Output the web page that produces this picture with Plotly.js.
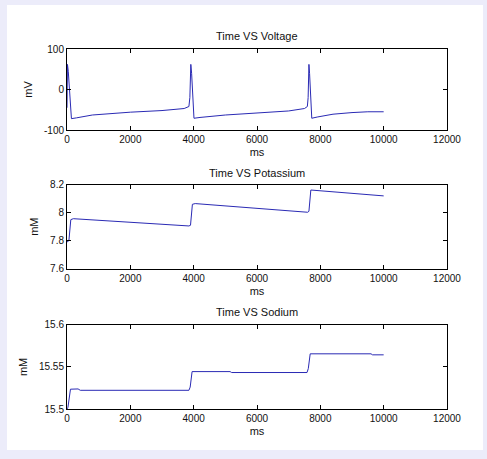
<!DOCTYPE html>
<html>
<head>
<meta charset="utf-8">
<script src="https://cdn.plot.ly/plotly-3.0.1.min.js"></script>
<style>
  html, body { margin: 0; padding: 0; background: #ececfa; width: 487px; height: 459px; overflow: hidden; }
  #chart { position: absolute; left: 7px; top: 5px; width: 476px; height: 445px; }
</style>
</head>
<body>
<div id="chart"></div>
<script>
// ---- Data ----
const titles = ["Time VS Voltage", "Time VS Potassium", "Time VS Sodium"];
const xLabel = "ms";
const yLabels = ["mV", "mM", "mM"];

// Voltage (mV) vs time (ms)
const tVoltage = [0, 15, 40, 80, 140, 300, 800, 2000, 3000, 3700, 3850, 3880, 3910, 3935, 3960, 4010, 4200, 5000, 6000, 7000, 7500, 7590, 7615, 7640, 7660, 7680, 7730, 7900, 8400, 9000, 9500, 10000];
const voltage  = [-45, 62, 45, 0, -72, -70, -63, -56, -52, -47, -42, -20, 62, 40, 0, -71, -69, -63, -58, -53, -47, -42, -20, 62, 40, 0, -71, -68, -61, -57, -55, -55];

// Potassium (mM) vs time (ms)
const tPotassium = [0, 60, 120, 200, 3850, 3900, 3960, 4050, 7600, 7640, 7700, 7800, 10000];
const potassium  = [7.79, 7.80, 7.95, 7.957, 7.905, 7.91, 8.06, 8.065, 8.003, 8.01, 8.162, 8.16, 8.12];

// Sodium (mM) vs time (ms)
const tSodium = [0, 30, 110, 350, 420, 3850, 3890, 3950, 5150, 5200, 7580, 7620, 7680, 9600, 9650, 10000];
const sodium  = [15.5, 15.502, 15.5235, 15.5238, 15.5222, 15.5222, 15.526, 15.5444, 15.5444, 15.5433, 15.5433, 15.548, 15.5655, 15.5655, 15.5643, 15.5643];

const xTicks = [0, 2000, 4000, 6000, 8000, 10000, 12000];
const yTicksV = [-100, 0, 100];
const yTicksK = [7.6, 7.8, 8, 8.2];
const yTickTextK = ["7.6", "7.8", "8", "8.2"];
const yTicksNa = [15.5, 15.55, 15.6];
const yTickTextNa = ["15.5", "15.55", "15.6"];

// ---- Styling ----
const lineColor = "#2a2ab4";
const fontFam = "Arial, 'Liberation Sans', sans-serif";
const textColor = "#111";

const traces = [
  { x: tVoltage, y: voltage, xaxis: "x", yaxis: "y", type: "scatter", mode: "lines", line: { color: lineColor, width: 1 } },
  { x: tPotassium, y: potassium, xaxis: "x2", yaxis: "y2", type: "scatter", mode: "lines", line: { color: lineColor, width: 1 } },
  { x: tSodium, y: sodium, xaxis: "x3", yaxis: "y3", type: "scatter", mode: "lines", line: { color: lineColor, width: 1 } }
];

function xAxis(anchor) {
  return {
    anchor: anchor, domain: [0, 1], range: [0, 12000],
    tickmode: "array", tickvals: xTicks, ticktext: xTicks.map(String),
    ticks: "inside", ticklen: 4, tickcolor: "#000", tickwidth: 1,
    showline: true, linecolor: "#000", linewidth: 1, mirror: "ticks",
    showgrid: false, zeroline: false,
    tickfont: { family: fontFam, size: 10, color: textColor },
    title: { text: xLabel, font: { family: fontFam, size: 11, color: textColor }, standoff: 4 }
  };
}
function yAxis(anchor, domain, range, vals, text, label) {
  return {
    anchor: anchor, domain: domain, range: range,
    tickmode: "array", tickvals: vals, ticktext: text,
    ticks: "inside", ticklen: 4, tickcolor: "#000", tickwidth: 1,
    showline: true, linecolor: "#000", linewidth: 1, mirror: "ticks",
    showgrid: false, zeroline: false,
    tickfont: { family: fontFam, size: 10, color: textColor },
    title: { text: label, font: { family: fontFam, size: 11, color: textColor }, standoff: 9 }
  };
}

const titleAnn = (txt, y) => ({
  text: txt, xref: "paper", yref: "paper", x: 0.5, y: y,
  xanchor: "center", yanchor: "middle", showarrow: false,
  font: { family: fontFam, size: 11, color: textColor }
});

const layout = {
  width: 476, height: 445,
  margin: { l: 60, r: 36, t: 44, b: 41 },
  paper_bgcolor: "#ffffff", plot_bgcolor: "#ffffff",
  showlegend: false,
  xaxis: xAxis("y"),
  yaxis: yAxis("x", [0.775, 1], [-100, 100], yTicksV, yTicksV.map(String), yLabels[0]),
  xaxis2: xAxis("y2"),
  yaxis2: yAxis("x2", [0.39, 0.623], [7.6, 8.2], yTicksK, yTickTextK, yLabels[1]),
  xaxis3: xAxis("y3"),
  yaxis3: yAxis("x3", [0, 0.234], [15.5, 15.6], yTicksNa, yTickTextNa, yLabels[2]),
  annotations: [
    titleAnn(titles[0], 1.036),
    titleAnn(titles[1], 0.656),
    titleAnn(titles[2], 0.269)
  ]
};

Plotly.newPlot("chart", traces, layout, { displayModeBar: false, staticPlot: true });
</script>
</body>
</html>
